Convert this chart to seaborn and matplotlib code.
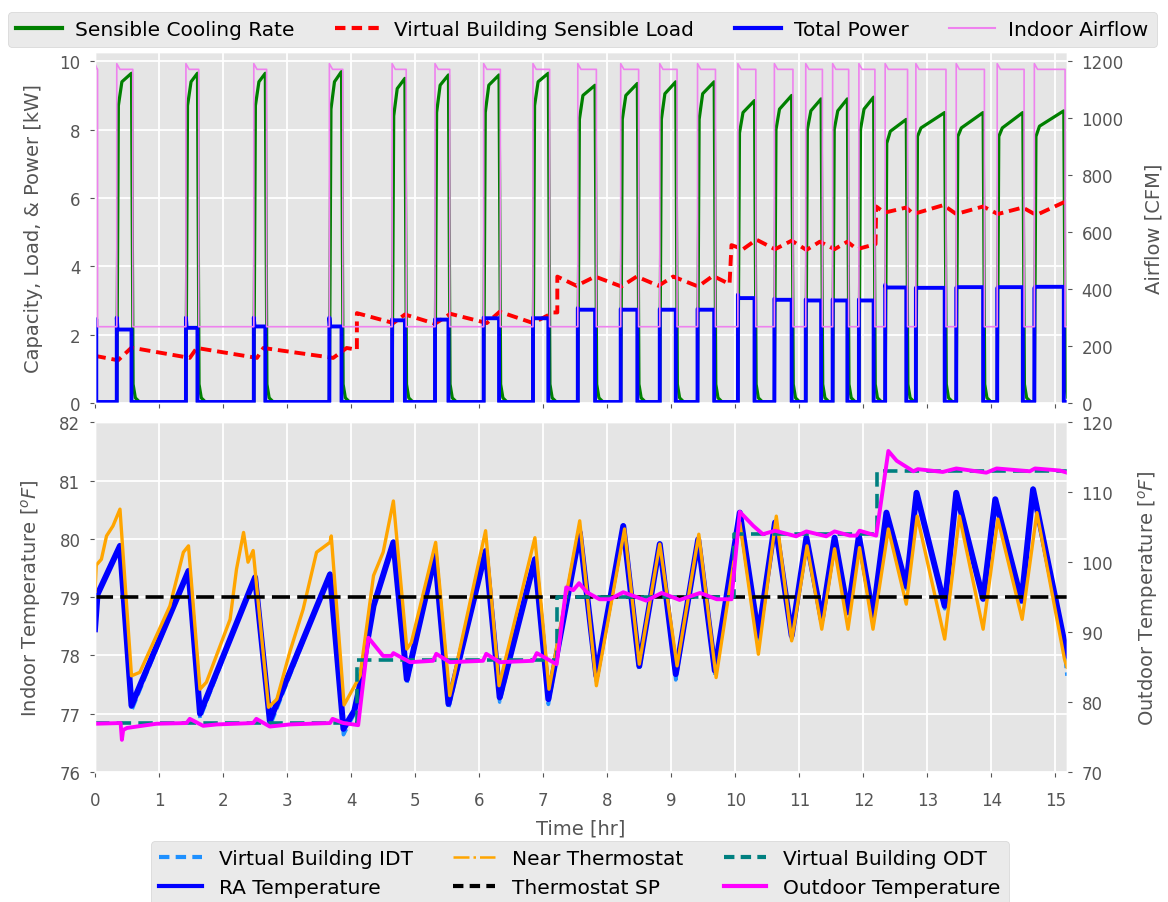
import numpy as np
import pandas as pd
import matplotlib
matplotlib.use("Agg")
import matplotlib.pyplot as plt
from matplotlib.lines import Line2D
import seaborn as sns

# ---------------- data ----------------
# compressor cycles (hr)
cycle_on  = [0.00, 0.34, 1.42, 2.48, 3.66, 4.64, 5.31, 6.07, 6.84, 7.54, 8.21, 8.82, 9.41,
             10.04, 10.61, 11.10, 11.52, 11.93, 12.34, 12.82, 13.45, 14.09, 14.67]
cycle_off = [0.02, 0.57, 1.60, 2.66, 3.85, 4.84, 5.52, 6.31, 7.08, 7.81, 8.47, 9.07, 9.67,
             10.30, 10.88, 11.34, 11.75, 12.16, 12.67, 13.27, 13.87, 14.49, 15.13]
# total power (kW): value right after start, then running level
power_start = [2.45, 2.50, 2.50, 2.50, 2.50, 2.45, 2.45, 2.50, 2.50, 2.78, 2.75, 2.75, 2.75,
               3.17, 3.05, 3.03, 3.03, 3.03, 3.46, 3.37, 3.37, 3.36, 3.36]
power_level = [2.45, 2.15, 2.20, 2.24, 2.24, 2.42, 2.44, 2.48, 2.48, 2.73, 2.73, 2.73, 2.73,
               3.07, 3.02, 3.00, 3.00, 3.00, 3.38, 3.37, 3.39, 3.39, 3.40]
power_idle = 0.03
# sensible cooling rate (kW): knee, mid, end of each cycle; decay tail after shut-off
cool_knee = [0, 8.7, 8.7, 8.7, 8.6, 8.4, 8.5, 8.5, 8.7, 8.3, 8.3, 8.3, 8.3,
             7.9, 8.0, 8.0, 8.0, 8.0, 7.6, 7.8, 7.8, 7.8, 7.8]
cool_mid  = [0, 9.40, 9.40, 9.40, 9.40, 9.20, 9.30, 9.30, 9.40, 9.00, 9.00, 9.05, 9.05,
             8.50, 8.60, 8.55, 8.55, 8.60, 7.95, 8.05, 8.05, 8.05, 8.10]
cool_peak = [0, 9.65, 9.65, 9.65, 9.70, 9.50, 9.60, 9.60, 9.65, 9.30, 9.35, 9.40, 9.40,
             8.85, 9.00, 8.90, 8.90, 8.95, 8.30, 8.50, 8.50, 8.50, 8.55]
cool_tail = [0.55, 0.15, 0.02]
# indoor airflow (CFM)
airflow_idle, airflow_peak, airflow_run = 268, 1192, 1172
# virtual building sensible load (kW)
load_t = [0, 0.36, 0.57, 1.48, 1.59, 2.53, 2.63, 3.72, 3.93, 4.09, 4.09, 4.66, 4.84, 5.31, 5.55,
          6.12, 6.32, 6.84, 7.16, 7.22, 7.22, 7.52, 7.81, 8.22, 8.46, 8.80, 9.03, 9.42, 9.65,
          9.91, 9.94, 10.12, 10.33, 10.62, 10.88, 11.11, 11.32, 11.55, 11.75, 11.90, 12.19,
          12.20, 12.33, 12.67, 12.78, 13.25, 13.45, 13.87, 14.10, 14.49, 14.70, 15.15]
load_kw = [1.38, 1.25, 1.62, 1.32, 1.61, 1.32, 1.61, 1.32, 1.61, 1.56, 2.63, 2.34, 2.59, 2.32, 2.61,
           2.34, 2.67, 2.34, 2.65, 2.65, 3.70, 3.43, 3.70, 3.41, 3.70, 3.43, 3.70, 3.41, 3.72,
           3.48, 4.62, 4.50, 4.78, 4.50, 4.75, 4.48, 4.72, 4.50, 4.72, 4.50, 4.65,
           5.75, 5.57, 5.72, 5.53, 5.79, 5.53, 5.75, 5.53, 5.72, 5.50, 5.89]

# indoor temperatures (F)
ra_t = [0, 0.04, 0.39, 0.57, 1.46, 1.64, 2.50, 2.73, 3.67, 3.88, 4.05, 4.12, 4.35, 4.66, 4.87,
        5.31, 5.52, 6.10, 6.32, 6.87, 7.08, 7.57, 7.83, 8.25, 8.50, 8.82, 9.07, 9.42, 9.68,
        10.07, 10.36, 10.62, 10.88, 11.11, 11.35, 11.55, 11.76, 11.93, 12.15, 12.36, 12.67,
        12.83, 13.27, 13.45, 13.87, 14.06, 14.47, 14.65, 15.14, 15.18]
ra_T = [78.45, 79.05, 79.88, 77.14, 79.45, 77.00, 79.34, 76.88, 79.39, 76.74, 77.05, 77.40, 78.85,
        79.94, 77.59, 79.71, 77.17, 79.79, 77.28, 79.65, 77.25, 80.11, 77.65, 80.22, 77.82,
        79.91, 77.68, 79.99, 77.74, 80.45, 78.34, 80.28, 78.34, 80.02, 78.62, 80.02, 78.74,
        80.05, 78.68, 80.45, 79.19, 80.79, 78.85, 80.79, 78.97, 80.68, 78.94, 80.85, 78.22, 78.00]
idt_T = [78.45, 79.05, 79.90, 77.05, 79.47, 76.92, 79.36, 76.78, 79.41, 76.64, 77.00, 77.38, 78.85,
         79.96, 77.52, 79.73, 77.08, 79.81, 77.20, 79.67, 77.16, 80.13, 77.56, 80.24, 77.74,
         79.93, 77.58, 80.01, 77.66, 80.47, 78.28, 80.30, 78.28, 80.04, 78.56, 80.04, 78.68,
         80.07, 78.62, 80.47, 79.14, 80.81, 78.80, 80.81, 78.92, 80.70, 78.88, 80.87, 78.10, 77.65]
nt_t = [0, 0.02, 0.10, 0.18, 0.28, 0.39, 0.57, 0.70, 0.96, 1.17, 1.38, 1.46, 1.64, 1.74, 2.11,
        2.21, 2.32, 2.39, 2.47, 2.71, 2.84, 3.04, 3.25, 3.46, 3.67, 3.69, 3.89, 4.14, 4.35, 4.50,
        4.66, 4.87, 4.94, 5.32, 5.54, 6.10, 6.31, 6.87, 7.09, 7.57, 7.83, 8.27, 8.50, 8.82,
        9.09, 9.43, 9.70, 10.07, 10.36, 10.64, 10.88, 11.12, 11.35, 11.55, 11.76, 11.94,
        12.15, 12.39, 12.67, 12.84, 13.27, 13.50, 13.87, 14.10, 14.48, 14.71, 15.14, 15.18]
nt_T = [79.10, 79.55, 79.65, 80.05, 80.22, 80.51, 77.65, 77.71, 78.34, 78.85, 79.77, 79.88, 77.42,
        77.54, 78.62, 79.48, 80.11, 79.60, 79.80, 77.11, 77.25, 78.05, 78.79, 79.77, 79.94,
        80.05, 77.15, 77.65, 79.37, 79.77, 80.65, 78.11, 78.22, 79.94, 77.31, 80.14, 77.48,
        80.02, 77.42, 80.31, 77.48, 80.17, 77.85, 79.91, 77.82, 80.08, 77.62, 80.28, 78.02,
        80.39, 78.25, 79.88, 78.45, 79.83, 78.45, 79.85, 78.45, 80.17, 78.88, 80.39, 78.28,
        80.39, 78.45, 80.34, 78.62, 80.45, 77.94, 77.80]
sp_t = [0, 15.18]
sp_T = [79, 79]
# outdoor temperatures (F)
odt_t = [0, 4.09, 7.22, 9.98, 12.22, 15.18]
odt_F = [77, 86, 95, 104, 113]
od_t = [0, 0.40, 0.42, 0.44, 0.50, 0.96, 1.43, 1.48, 1.69, 1.90, 2.47, 2.52, 2.73, 3.04, 3.67,
        3.71, 3.88, 4.11, 4.27, 4.50, 4.63, 4.66, 4.92, 5.28, 5.33, 5.54, 6.06, 6.11, 6.32,
        6.84, 6.90, 7.21, 7.36, 7.47, 7.56, 7.68, 7.88, 8.04, 8.25, 8.61, 8.85, 9.13, 9.45,
        9.71, 9.94, 10.07, 10.28, 10.43, 10.62, 10.95, 11.11, 11.42, 11.55, 11.79, 11.89,
        11.94, 12.20, 12.39, 12.52, 12.78, 12.85, 13.24, 13.45, 13.92, 14.08, 14.60, 14.68,
        15.07, 15.18]
od_F = [76.9, 77.0, 74.6, 76.0, 76.3, 76.9, 77.0, 77.6, 76.6, 76.8, 77.0, 77.6, 76.5, 76.8, 77.0,
        77.6, 77.0, 76.7, 89.2, 86.6, 86.6, 87.0, 85.7, 85.9, 86.9, 85.7, 85.9, 86.9, 85.7,
        85.9, 87.0, 85.4, 96.4, 96.0, 97.0, 95.7, 94.7, 94.7, 95.7, 94.5, 95.6, 94.6, 95.6,
        94.7, 94.7, 107.2, 105.2, 104.0, 104.5, 103.7, 104.4, 103.7, 104.4, 103.8, 103.8,
        104.5, 103.8, 115.9, 114.5, 113.0, 113.3, 112.9, 113.4, 112.8, 113.4, 113.0, 113.4,
        113.1, 112.8]

X_END = 15.18

# ---------------- build vertex tables from the arrays ----------------
pw_t, pw_v = [0.0], [power_idle]
for on, off, ps, pl in zip(cycle_on, cycle_off, power_start, power_level):
    pw_t += [on, on, on + 0.012, off, off]
    pw_v += [power_idle, ps, pl, pl, power_idle]
pw_t.append(X_END); pw_v.append(power_idle)
power_df = pd.DataFrame({"t": pw_t, "v": pw_v})

cl_t, cl_v = [0.0], [0.0]
for on, off, k, m, p in zip(cycle_on, cycle_off, cool_knee, cool_mid, cool_peak):
    if p == 0:
        continue
    cl_t += [on, on + 0.025, on + 0.08, off, off + 0.025, off + 0.06, off + 0.13]
    cl_v += [0.0, k, m, p] + cool_tail
cool_df = pd.DataFrame({"t": cl_t, "v": cl_v})

af_t, af_v = [0.0], [airflow_idle]
for on, off in zip(cycle_on, cycle_off):
    settle = min(on + 0.05, off + 0.015)
    af_t += [on, on, settle, off + 0.02, off + 0.02]
    af_v += [airflow_idle, airflow_peak, airflow_run, airflow_run, airflow_idle]
af_t.append(X_END); af_v.append(airflow_idle)
air_df = pd.DataFrame({"t": af_t, "v": af_v})

load_df = pd.DataFrame({"t": load_t, "v": load_kw})
ra_df = pd.DataFrame({"t": ra_t, "v": ra_T})
idt_df = pd.DataFrame({"t": ra_t, "v": idt_T})
nt_df = pd.DataFrame({"t": nt_t, "v": nt_T})
sp_df = pd.DataFrame({"t": sp_t, "v": sp_T})
ot, ov = [], []
for i, lvl in enumerate(odt_F):
    ot += [odt_t[i], odt_t[i + 1]]
    ov += [lvl, lvl]
odt_df = pd.DataFrame({"t": ot, "v": ov})
od_df = pd.DataFrame({"t": od_t, "v": od_F})

# ---------------- style ----------------
plt.style.use("ggplot")
plt.rcParams["font.family"] = ["DejaVu Sans"]
plt.rcParams["axes.labelsize"] = 14
plt.rcParams["xtick.labelsize"] = 12
plt.rcParams["ytick.labelsize"] = 12
plt.rcParams["xtick.major.pad"] = 10
plt.rcParams["ytick.major.pad"] = 7
plt.rcParams["grid.linewidth"] = 1.3

W, H = 1168, 903
fig = plt.figure(figsize=(W / 100, H / 100), dpi=100)
x0, x1 = 95, 1067
ax1 = fig.add_axes([x0 / W, 1 - 404 / H, (x1 - x0) / W, (404 - 52.7) / H])
ax3 = fig.add_axes([x0 / W, 1 - 773 / H, (x1 - x0) / W, (773 - 423.3) / H], sharex=ax1)
ax2 = ax1.twinx()
ax4 = ax3.twinx()

kw = dict(estimator=None, sort=False, legend=False)
sns.lineplot(data=cool_df, x="t", y="v", ax=ax1, color="green", linewidth=2.3, **kw)
sns.lineplot(data=load_df, x="t", y="v", ax=ax1, color="red", linewidth=2.8, **kw)
ax1.lines[-1].set_dashes((2.8, 1.5))
sns.lineplot(data=power_df, x="t", y="v", ax=ax1, color="blue", linewidth=2.8, **kw)
sns.lineplot(data=air_df, x="t", y="v", ax=ax2, color="violet", linewidth=1.2, **kw)

sns.lineplot(data=idt_df, x="t", y="v", ax=ax3, color="dodgerblue", linewidth=2.6, **kw)
ax3.lines[-1].set_dashes((3, 1.2))
sns.lineplot(data=ra_df, x="t", y="v", ax=ax3, color="blue", linewidth=4.3, **kw)
sns.lineplot(data=nt_df, x="t", y="v", ax=ax3, color="orange", linewidth=2.4, **kw)
sns.lineplot(data=sp_df, x="t", y="v", ax=ax3, color="black", linewidth=2.6, **kw)
ax3.lines[-1].set_dashes((5, 2))
sns.lineplot(data=odt_df, x="t", y="v", ax=ax4, color="teal", linewidth=2.6, **kw)
ax4.lines[-1].set_dashes((4, 2))
sns.lineplot(data=od_df, x="t", y="v", ax=ax4, color="magenta", linewidth=2.8, **kw)

# axes setup
ax1.set_xlim(0, X_END)
ax1.set_xticks(range(0, 16))
ax1.set_ylim(0, 10.28)
ax1.set_yticks([0, 2, 4, 6, 8, 10])
ax2.set_ylim(0, 1234)
ax2.set_yticks([0, 200, 400, 600, 800, 1000, 1200])
ax1.tick_params(labelbottom=False)
ax1.set_xlabel("")
ax1.set_ylabel("Capacity, Load, & Power [kW]", labelpad=12)
ax2.set_ylabel("Airflow [CFM]", labelpad=15)
ax2.grid(False)

ax3.set_ylim(76, 82)
ax3.set_yticks([76, 77, 78, 79, 80, 81, 82])
ax4.set_ylim(70, 120)
ax4.set_yticks([70, 80, 90, 100, 110, 120])
ax3.set_xlabel("Time [hr]", labelpad=7)
ax3.set_ylabel(r"Indoor Temperature [$^oF$]", labelpad=12)
ax4.set_ylabel(r"Outdoor Temperature [$^oF$]", labelpad=16)
ax4.grid(False)
for a in (ax2, ax4):
    a.set_xlabel("")

# legends
top_handles = [Line2D([], [], color="green", lw=3),
               Line2D([], [], color="red", lw=3, dashes=(2.5, 1.5)),
               Line2D([], [], color="blue", lw=3),
               Line2D([], [], color="violet", lw=1.5)]
top_labels = ["Sensible Cooling Rate", "Virtual Building Sensible Load", "Total Power", "Indoor Airflow"]
fig.legend(top_handles, top_labels, loc="upper center", bbox_to_anchor=(0.4985, 1 - 12.7 / H),
           ncol=4, fontsize=14.5, handlelength=2.3, handletextpad=0.65, columnspacing=2.0,
           borderaxespad=0, frameon=True)

bot_handles = [Line2D([], [], color="dodgerblue", lw=3, dashes=(2.5, 1.5)),
               Line2D([], [], color="blue", lw=3),
               Line2D([], [], color="orange", lw=1.8, ls="-."),
               Line2D([], [], color="black", lw=3, dashes=(2.5, 1.5)),
               Line2D([], [], color="teal", lw=3, dashes=(2.5, 1.5)),
               Line2D([], [], color="magenta", lw=3)]
bot_labels = ["Virtual Building IDT", "RA Temperature", "Near Thermostat", "Thermostat SP",
              "Virtual Building ODT", "Outdoor Temperature"]
fig.legend(bot_handles, bot_labels, loc="upper center", bbox_to_anchor=(0.4966, 1 - 842 / H),
           ncol=3, fontsize=14.5, handlelength=2.1, handletextpad=0.85, columnspacing=2.0,
           borderaxespad=0, frameon=True)

fig.savefig("out.png", dpi=100)
